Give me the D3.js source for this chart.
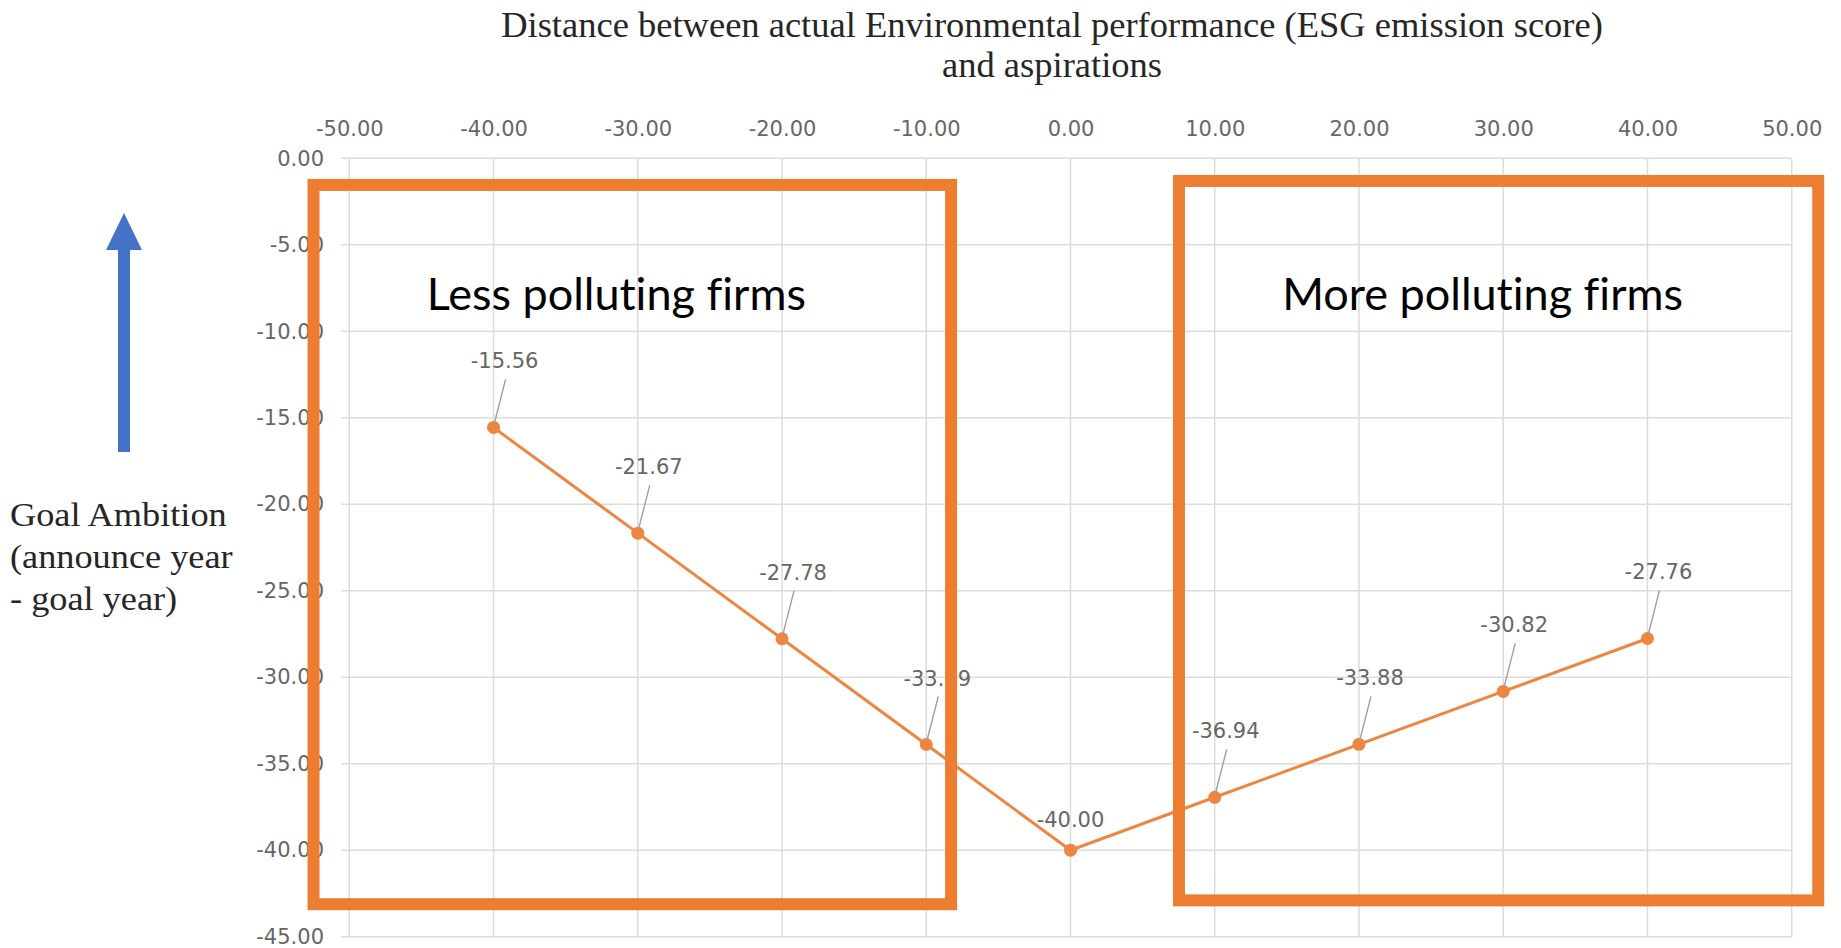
<!DOCTYPE html>
<html>
<head>
<meta charset="utf-8">
<script src="https://cdn.jsdelivr.net/npm/d3@7"></script>
<style>
    body { margin: 0; background: white; }
    .tick-label { font-family: "DejaVu Sans", sans-serif; font-size: 21px; fill: #666666; }
    .group-label { font-variant-ligatures: none; }
</style>
</head>
<body>
<div id="canvas"></div>
<script>
"use strict";

let svgWidth = 1841;
let svgHeight = 948;

/* ---------------- DATA ---------------- */
let distance = [-40, -30, -20, -10, 0, 10, 20, 30, 40];
let ambition = [-15.56, -21.67, -27.78, -33.89, -40.00, -36.94, -33.88, -30.82, -27.76];
let xTicks = [-50, -40, -30, -20, -10, 0, 10, 20, 30, 40, 50];
let yTicks = [0, -5, -10, -15, -20, -25, -30, -35, -40, -45];
let titleLines = ["Distance between actual Environmental performance (ESG emission score)", "and aspirations"];
let yTitleLines = ["Goal Ambition", "(announce year", "- goal year)"];
let groupLabels = ["Less polluting firms", "More polluting firms"];

let orange = "#ED7D31";
let lineOrange = "#EC8640";
let gridColor = "#dcdcdc";

// plain hyphen for negatives, like the source chart
let fmt = d => d.toFixed(2);

let svg = d3.select("#canvas")
    .append("svg")
    .attr("width", svgWidth)
    .attr("height", svgHeight);

/* ---------------- SCALES ---------------- */
let xScale = d3.scaleLinear()
    .domain([-50, 50])
    .range([349.3, 1791.7]);

let yScale = d3.scaleLinear()
    .domain([0, -45])
    .range([158.3, 936.7]);

/* ---------------- GRID ---------------- */
let gridLayer = svg.append("g");

gridLayer.selectAll(".vgrid")
    .data(xTicks)
    .enter()
    .append("line")
    .attr("x1", d => xScale(d))
    .attr("x2", d => xScale(d))
    .attr("y1", yScale(0))
    .attr("y2", yScale(-45))
    .attr("stroke", gridColor)
    .attr("stroke-width", 1.5);

gridLayer.selectAll(".hgrid")
    .data(yTicks)
    .enter()
    .append("line")
    .attr("x1", xScale(-50) - 8)
    .attr("x2", xScale(50))
    .attr("y1", d => yScale(d))
    .attr("y2", d => yScale(d))
    .attr("stroke", gridColor)
    .attr("stroke-width", 1.5);

/* ---------------- AXES (labels only) ---------------- */
let xAxis = d3.axisTop(xScale)
    .tickValues(xTicks)
    .tickFormat(fmt)
    .tickSize(0)
    .tickPadding(0);

let xAxisG = svg.append("g")
    .attr("transform", "translate(0,136)")
    .call(xAxis);
xAxisG.select(".domain").remove();
xAxisG.selectAll("text").attr("class", "tick-label").attr("fill", null);

let yAxis = d3.axisLeft(yScale)
    .tickValues(yTicks)
    .tickFormat(fmt)
    .tickSize(0)
    .tickPadding(0);

let yAxisG = svg.append("g")
    .attr("transform", "translate(324,0)")
    .call(yAxis);
yAxisG.select(".domain").remove();
yAxisG.selectAll("text").attr("class", "tick-label").attr("fill", null);

/* ---------------- LINE + MARKERS ---------------- */
let points = distance.map((d, i) => ({ x: d, y: ambition[i] }));

let line = d3.line()
    .x(d => xScale(d.x))
    .y(d => yScale(d.y));

svg.append("path")
    .datum(points)
    .attr("d", line)
    .attr("fill", "none")
    .attr("stroke", lineOrange)
    .attr("stroke-width", 3);

svg.selectAll(".marker")
    .data(points)
    .enter()
    .append("circle")
    .attr("cx", d => xScale(d.x))
    .attr("cy", d => yScale(d.y))
    .attr("r", 6.5)
    .attr("fill", lineOrange);

/* ---------------- DATA LABELS ---------------- */
let minValue = d3.min(ambition);
let labelLayer = svg.append("g");

points.forEach(function (d) {
    let px = xScale(d.x);
    let py = yScale(d.y);

    if (d.y === minValue) {
        labelLayer.append("text")
            .attr("class", "tick-label")
            .attr("x", px)
            .attr("y", py - 23)
            .attr("text-anchor", "middle")
            .text(fmt(d.y));
        return;
    }

    labelLayer.append("line")
        .attr("x1", px + 12)
        .attr("y1", py - 48)
        .attr("x2", px + 1)
        .attr("y2", py - 5)
        .attr("stroke", "#a0a0a0")
        .attr("stroke-width", 1.4);

    labelLayer.append("text")
        .attr("class", "tick-label")
        .attr("x", px + 11)
        .attr("y", py - 59)
        .attr("text-anchor", "middle")
        .text(fmt(d.y));
});

/* ---------------- ANNOTATION BOXES ---------------- */
let boxes = [
    { x0: -52.48, x1: -8.28, y0: -1.54, y1: -43.12 },
    { x0: 7.52, x1: 51.84, y0: -1.31, y1: -42.9 }
];

boxes.forEach(function (b, i) {
    let left = xScale(b.x0);
    let right = xScale(b.x1);
    let top = yScale(b.y0);
    let bottom = yScale(b.y1);

    svg.append("rect")
        .attr("x", left)
        .attr("y", top)
        .attr("width", right - left)
        .attr("height", bottom - top)
        .attr("fill", "none")
        .attr("stroke", orange)
        .attr("stroke-width", 12);

    svg.append("text")
        .attr("class", "group-label")
        .attr("x", (left + right) / 2 - 16)
        .attr("y", 310)
        .attr("text-anchor", "middle")
        .attr("font-family", "Lato, sans-serif")
        .attr("font-size", "45px")
        .attr("fill", "black")
        .text(groupLabels[i]);
});

/* ---------------- TITLE ---------------- */
titleLines.forEach(function (t, i) {
    svg.append("text")
        .attr("x", 1052)
        .attr("y", 37 + i * 40)
        .attr("text-anchor", "middle")
        .attr("font-family", "'Liberation Serif', 'Times New Roman', serif")
        .attr("font-size", "36.5px")
        .attr("fill", "#262626")
        .text(t);
});

/* ---------------- Y TITLE + ARROW ---------------- */
let yTitle = svg.append("g")
    .attr("transform", "translate(10,0) scale(1.1,1)");

yTitleLines.forEach(function (t, i) {
    yTitle.append("text")
        .attr("x", 0)
        .attr("y", 526 + i * 42)
        .attr("font-family", "'Liberation Serif', 'Times New Roman', serif")
        .attr("font-size", "33px")
        .attr("fill", "#262626")
        .text(t);
});

let arrowX = 124;
svg.append("rect")
    .attr("x", arrowX - 6)
    .attr("y", 248)
    .attr("width", 12)
    .attr("height", 452 - 248)
    .attr("fill", "#4472C4");

svg.append("path")
    .attr("d", "M " + (arrowX - 18) + " 250 L " + (arrowX + 18) + " 250 L " + arrowX + " 213 Z")
    .attr("fill", "#4472C4");
</script>
</body>
</html>
